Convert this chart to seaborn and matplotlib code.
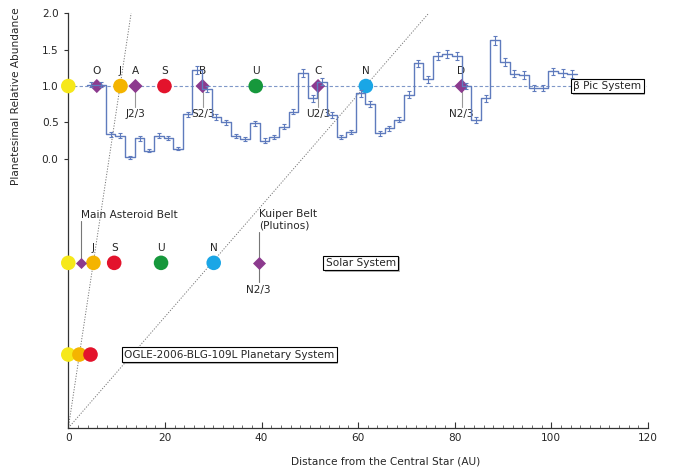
import numpy as np
import pandas as pd
import matplotlib
matplotlib.use("Agg")
import matplotlib.pyplot as plt
import matplotlib.patheffects as pe
from matplotlib.ticker import MultipleLocator
import seaborn as sns

# ---------------- data ----------------
# beta Pic planetesimal histogram (bins of ~2 AU)
hist_start = 3.8
hist_width = 1.99
hist_values = [1.02, 1.02, 0.335, 0.32, 0.02, 0.28, 0.11, 0.32, 0.29, 0.14,
               0.61, 1.22, 0.96, 0.57, 0.50, 0.31, 0.27, 0.49, 0.25, 0.30,
               0.44, 0.65, 1.18, 0.83, 1.06, 0.60, 0.30, 0.37, 0.90, 0.75,
               0.35, 0.42, 0.54, 0.88, 1.31, 1.09, 1.41, 1.44, 1.41, 1.00,
               0.53, 0.83, 1.63, 1.33, 1.17, 1.15, 0.97, 0.97, 1.20, 1.18, 1.165]
hist_errors = [0.04, 0.04, 0.03, 0.03, 0.02, 0.03, 0.02, 0.03, 0.03, 0.02,
               0.04, 0.05, 0.04, 0.04, 0.035, 0.03, 0.03, 0.035, 0.03, 0.03,
               0.035, 0.04, 0.05, 0.045, 0.05, 0.04, 0.03, 0.03, 0.045, 0.04,
               0.03, 0.035, 0.04, 0.045, 0.05, 0.05, 0.055, 0.055, 0.055, 0.045,
               0.04, 0.045, 0.06, 0.05, 0.05, 0.05, 0.045, 0.045, 0.05, 0.05, 0.05]

# beta Pic system (row at abundance 1.0)
bp_y = 1.0
bp_planet_x = [0.0, 10.8, 19.9, 38.8, 61.6]
bp_planet_color = ["star", "jupiter", "saturn", "uranus", "neptune"]
bp_planet_label = ["", "J", "S", "U", "N"]
bp_belt_x = [5.9, 13.9, 27.8, 51.7, 81.4]
bp_belt_label = ["O", "A", "B", "C", "D"]
bp_belt_res = ["", "J2/3", "S2/3", "U2/3", "N2/3"]

# Solar system
ss_y = -1.43
ss_planet_x = [0.0, 5.2, 9.5, 19.2, 30.1]
ss_planet_color = ["star", "jupiter", "saturn", "uranus", "neptune"]
ss_planet_label = ["", "J", "S", "U", "N"]
ss_asteroid_x = 2.6
ss_kuiper_x = 39.4

# OGLE-2006-BLG-109L
og_y = -2.69
og_planet_x = [0.0, 2.3, 4.6]
og_planet_color = ["star", "jupiter", "saturn"]

# scaling guide lines (through J and N of each system)
guide_top_x = [13.0, 74.6]

palette = {"star": "#f6e81a", "jupiter": "#f4b400", "saturn": "#e3132c",
           "uranus": "#16983c", "neptune": "#1aa6e6", "belt": "#8c3a8e"}

# ---------------- figure ----------------
sns.set_style("white")
plt.rcParams["font.family"] = ["DejaVu Sans"]
fig = plt.figure(figsize=(6.85, 4.74), dpi=100)
ax = fig.add_axes([0.0997, 0.097, 0.8463, 0.875])

YMIN, YMAX = -3.70, 2.0
ax.set_xlim(0, 120)
ax.set_ylim(YMIN, YMAX)

# guide lines
for gx in guide_top_x:
    sns.lineplot(x=[0, gx], y=[YMIN, YMAX], ax=ax, color="#777777", lw=0.7,
                 linestyle=(0, (1.2, 1.6)), zorder=1, errorbar=None)

# dashed line at 1.0
sns.lineplot(x=[0, 119.5], y=[bp_y, bp_y], ax=ax, color="#7f97c8", lw=0.8,
             linestyle=(0, (3, 2)), zorder=1, errorbar=None)

# markers
def planets(xs, y, kinds, size=110):
    df = pd.DataFrame({"x": xs, "y": [y] * len(xs), "k": kinds})
    sns.scatterplot(data=df, x="x", y="y", hue="k", palette=palette, s=size,
                    marker="o", linewidth=0, legend=False, ax=ax, zorder=3,
                    clip_on=False)

def belts(xs, y, size=52):
    df = pd.DataFrame({"x": xs, "y": [y] * len(xs), "k": ["belt"] * len(xs)})
    sns.scatterplot(data=df, x="x", y="y", hue="k", palette=palette, s=size,
                    marker="D", linewidth=0, legend=False, ax=ax, zorder=3,
                    clip_on=False)

planets(bp_planet_x, bp_y, bp_planet_color)
belts(bp_belt_x, bp_y)
planets(ss_planet_x, ss_y, ss_planet_color)
belts([ss_asteroid_x], ss_y, size=32)
belts([ss_kuiper_x], ss_y, size=44)
planets(og_planet_x, og_y, og_planet_color)

# histogram (step) with error bars
edges = hist_start + hist_width * np.arange(len(hist_values) + 1)
centers = edges[:-1] + hist_width / 2
sns.lineplot(x=edges, y=list(hist_values) + [hist_values[-1]], ax=ax,
             drawstyle="steps-post", color="#5f7bbd", lw=1.0, zorder=4,
             errorbar=None, sort=False)
ax.errorbar(centers, hist_values, yerr=hist_errors, fmt="none",
            ecolor="#5f7bbd", elinewidth=0.8, capsize=1.5, capthick=0.8,
            zorder=4)

# labels in beta Pic row
fs = 7.6
for x, lab in zip(bp_planet_x, bp_planet_label):
    if lab:
        ax.text(x, 1.20, lab, ha="center", va="center", fontsize=fs)
for x, lab in zip(bp_belt_x, bp_belt_label):
    ax.text(x, 1.20, lab, ha="center", va="center", fontsize=fs)
for x, lab in zip(bp_belt_x, bp_belt_res):
    if lab:
        ax.plot([x, x], [bp_y, 0.71], color="#999999", lw=0.8, zorder=2)
        ax.text(x, 0.62, lab, ha="center", va="center", fontsize=fs)

# labels in Solar row
for x, lab in zip(ss_planet_x, ss_planet_label):
    if lab:
        ax.text(x, ss_y + 0.20, lab, ha="center", va="center", fontsize=fs)
ax.plot([ss_asteroid_x, ss_asteroid_x], [ss_y, -0.86], color="#777777", lw=0.8, zorder=2)
ax.text(ss_asteroid_x + 0.1, -0.77, "Main Asteroid Belt", ha="left", va="center", fontsize=fs)
ax.plot([ss_kuiper_x, ss_kuiper_x], [ss_y, -1.0], color="#777777", lw=0.8, zorder=2)
ax.text(ss_kuiper_x, -0.84, "Kuiper Belt\n(Plutinos)", ha="left", va="center",
        fontsize=fs, linespacing=1.15)
ax.plot([ss_kuiper_x, ss_kuiper_x], [ss_y, -1.69], color="#777777", lw=0.8, zorder=2)
ax.text(ss_kuiper_x, -1.80, "N2/3", ha="center", va="center", fontsize=fs)

# system boxes
box = dict(boxstyle="square,pad=0.22", fc="white", ec="black", lw=0.8)
shadow = [pe.withSimplePatchShadow(offset=(1.2, -1.2), shadow_rgbFace="#888888", alpha=0.6)]
for tx, ty, lab in [(111.6, bp_y, "β Pic System"),
                    (60.5, ss_y, "Solar System"),
                    (33.3, og_y, "OGLE-2006-BLG-109L Planetary System")]:
    t = ax.text(tx, ty, lab, ha="center", va="center", fontsize=fs, bbox=box, zorder=5)
    t.get_bbox_patch().set_path_effects(shadow)

# axes styling
sns.despine(ax=ax)
for s in ["left", "bottom"]:
    ax.spines[s].set_color("#333333")
    ax.spines[s].set_linewidth(0.9)
ax.set_yticks([0, 0.5, 1.0, 1.5, 2.0])
ax.set_yticklabels(["0.0", "0.5", "1.0", "1.5", "2.0"])
ax.set_xticks([0, 20, 40, 60, 80, 100, 120])
ax.xaxis.set_minor_locator(MultipleLocator(2))
ax.tick_params(axis="y", direction="out", length=3, width=0.8, labelsize=fs, pad=4,
               left=True, color="#333333")
ax.tick_params(axis="x", which="major", direction="in", length=4, width=0.8,
               labelsize=fs, bottom=True, color="#333333")
ax.tick_params(axis="x", which="minor", direction="in", length=2.5, width=0.6,
               bottom=True, color="#555555")
ax.set_xlabel("Distance from the Central Star (AU)", fontsize=fs)
ax.set_ylabel("Planetesimal Relative Abundance", fontsize=fs)
ax.xaxis.set_label_coords(0.548, -0.068)
ax.yaxis.set_label_coords(-0.082, 0.80)

fig.savefig("out.png", dpi=100)
